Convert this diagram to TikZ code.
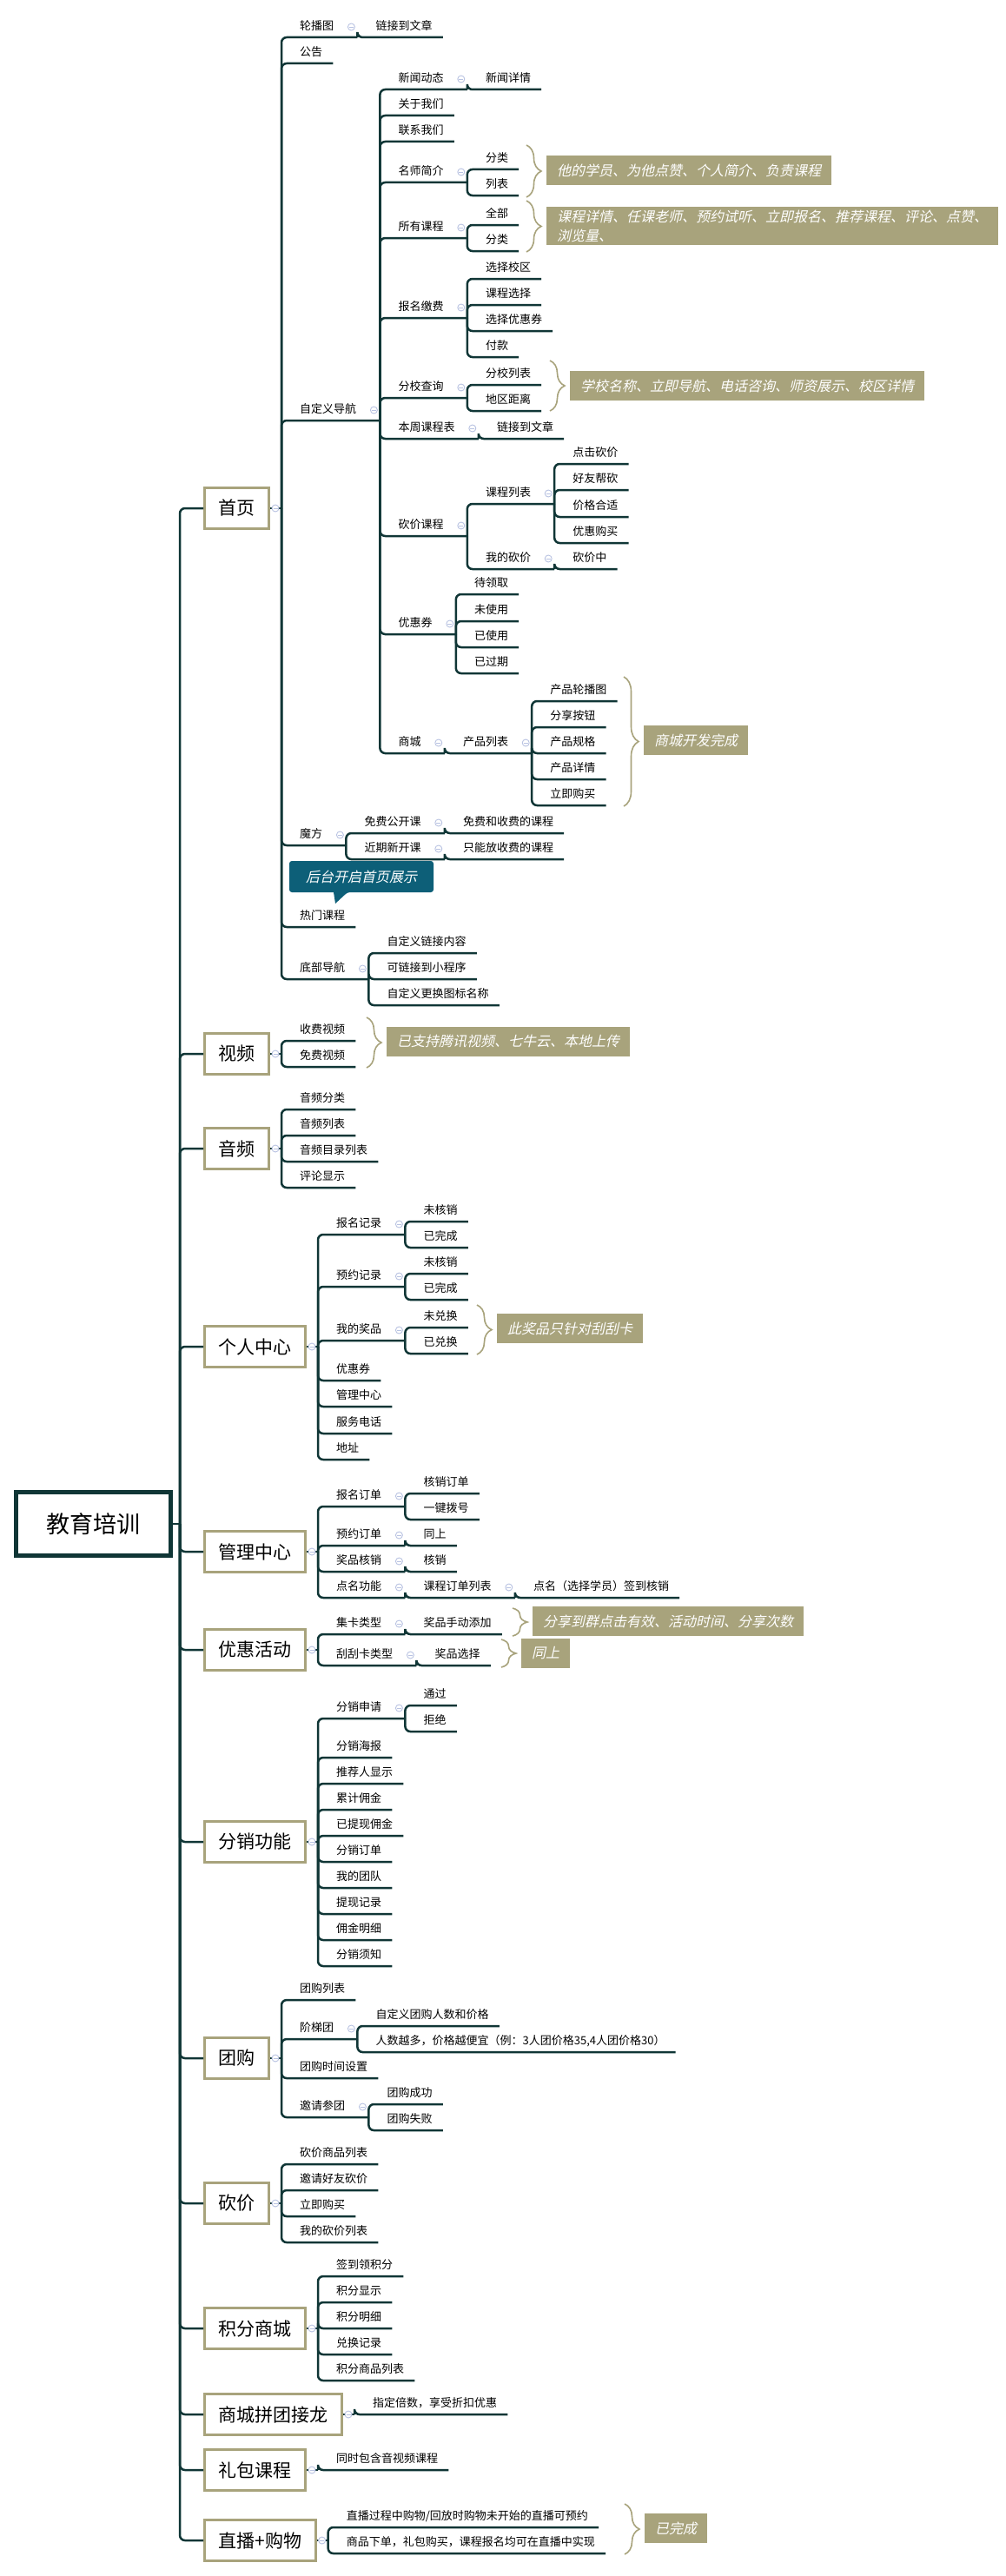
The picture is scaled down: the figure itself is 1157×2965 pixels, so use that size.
\documentclass[tikz,border=0pt]{standalone}
\usepackage{fontspec}
\setmainfont{Noto Sans CJK SC}
\newfontfamily\cjki{Noto Sans CJK SC}[FakeSlant=0.22]
\usetikzlibrary{calc,decorations.pathreplacing}
\definecolor{dk}{HTML}{103636}
\definecolor{kh}{HTML}{A8A37C}
\definecolor{tl}{HTML}{0D5F78}
\definecolor{tgc}{HTML}{B9C3E2}
\tikzset{
 br/.style={draw=dk,line width=2.5pt,rounded corners=6pt},
 lf/.style={anchor=south west,inner xsep=0pt,inner ysep=6pt,text height=11pt,text depth=2pt,font=\fontsize{13}{15}\selectfont,text=black},
 mn/.style={anchor=west,draw=kh,line width=3pt,fill=white,inner xsep=16pt,minimum height=47pt,font=\fontsize{21}{24}\selectfont},
 cal/.style={anchor=west,fill=kh,text=white,inner xsep=12pt,minimum height=34pt,font=\fontsize{16}{22}\selectfont\cjki,align=left},
 brc/.style={draw=kh,line width=1.6pt,decorate,decoration={brace,amplitude=17pt}},
 tog/.style={draw=tgc,line width=0.9pt,fill=white}
}
\newcommand\tgl[1]{\draw[tog] ($(#1)+(-7,-12)$) circle (4pt); \draw[tgc,line width=0.9pt] ($(#1)+(-9.5,-12)$) -- ++(5,0);}
\newcommand\kid[4]{\node[lf] (#2) at (#1 |- 0,#3) {\hspace*{21pt}#4\hspace*{12pt}}; \draw[br] (#1) |- (#2.south east);}
\newcommand\kidp[4]{\node[lf] (#2) at (#1 |- 0,#3) {\hspace*{21pt}#4\hspace*{27pt}}; \draw[br] (#1) |- (#2.south east); \tgl{#2.south east}}
\newcommand\mnode[3]{\node[mn] (#1) at (234,#2) {#3}; \draw[br] (T) |- (#1.west); \coordinate (#1j) at ($(#1.east)+(13,0)$); \draw[br] (#1.east) -- (#1j); \draw[tog] ($(#1.east)+(6,0)$) circle (4pt); \draw[tgc,line width=0.9pt] ($(#1.east)+(3.5,0)$) -- ++(5,0);}
\newcommand\callout[6]{\node[cal] (#1) at (#2,#3) {#6}; \draw[brc] ({#2-23},#4) -- ({#2-23},#5);}
\begin{document}
\begin{tikzpicture}[x=1pt,y=-1pt]
\useasboundingbox[fill=white] (0,0) rectangle (1157,2965);
\node[draw=dk,line width=5pt,minimum width=178pt,minimum height=73pt,font=\fontsize{27}{30}\selectfont] (root) at (107.5,1754) {教育培训};
\coordinate (T) at (207,1754);
\draw[br] (root.east) -- (T);
% 首页
\mnode{h}{585}{首页}
\kidp{hj}{a1}{43}{轮播图}
\kid{a1.south east}{a1a}{43}{链接到文章}
\kid{hj}{a2}{73}{公告}
\kidp{hj}{a3}{484}{自定义导航}
\kidp{a3.south east}{b1}{103}{新闻动态}
\kid{b1.south east}{b1a}{103}{新闻详情}
\kid{a3.south east}{b2}{133}{关于我们}
\kid{a3.south east}{b3}{163}{联系我们}
\kidp{a3.south east}{b4}{210}{名师简介}
\kid{b4.south east}{b4a}{195}{分类}
\kid{b4.south east}{b4b}{225}{列表}
\kidp{a3.south east}{b5}{274}{所有课程}
\kid{b5.south east}{b5a}{259}{全部}
\kid{b5.south east}{b5b}{289}{分类}
\kidp{a3.south east}{b6}{366}{报名缴费}
\kid{b6.south east}{b6a}{321}{选择校区}
\kid{b6.south east}{b6b}{351}{课程选择}
\kid{b6.south east}{b6c}{381}{选择优惠券}
\kid{b6.south east}{b6d}{411}{付款}
\kidp{a3.south east}{b7}{458}{分校查询}
\kid{b7.south east}{b7a}{443}{分校列表}
\kid{b7.south east}{b7b}{473}{地区距离}
\kidp{a3.south east}{b8}{505}{本周课程表}
\kid{b8.south east}{b8a}{505}{链接到文章}
\kidp{a3.south east}{b9}{617}{砍价课程}
\kidp{b9.south east}{c1}{580}{课程列表}
\kid{c1.south east}{c1a}{534}{点击砍价}
\kid{c1.south east}{c1b}{564}{好友帮砍}
\kid{c1.south east}{c1c}{595}{价格合适}
\kid{c1.south east}{c1d}{625}{优惠购买}
\kidp{b9.south east}{c2}{655}{我的砍价}
\kid{c2.south east}{c2a}{655}{砍价中}
\kidp{a3.south east}{b10}{730}{优惠券}
\kid{b10.south east}{b10a}{684}{待领取}
\kid{b10.south east}{b10b}{715}{未使用}
\kid{b10.south east}{b10c}{745}{已使用}
\kid{b10.south east}{b10d}{775}{已过期}
\kidp{a3.south east}{b11}{867}{商城}
\kidp{b11.south east}{c3}{867}{产品列表}
\kid{c3.south east}{c3a}{807}{产品轮播图}
\kid{c3.south east}{c3b}{837}{分享按钮}
\kid{c3.south east}{c3c}{867}{产品规格}
\kid{c3.south east}{c3d}{897}{产品详情}
\kid{c3.south east}{c3e}{927}{立即购买}
\kidp{hj}{a4}{973}{魔方}
\kidp{a4.south east}{d1}{959}{免费公开课}
\kid{d1.south east}{d1a}{959}{免费和收费的课程}
\kidp{a4.south east}{d2}{989}{近期新开课}
\kid{d2.south east}{d2a}{989}{只能放收费的课程}
\kid{hj}{a5}{1067}{热门课程}
\kidp{hj}{a6}{1127}{底部导航}
\kid{a6.south east}{a6a}{1097}{自定义链接内容}
\kid{a6.south east}{a6b}{1127}{可链接到小程序}
\kid{a6.south east}{a6c}{1157}{自定义更换图标名称}
\callout{k1}{629}{196}{167}{227}{他的学员、为他点赞、个人简介、负责课程}
\callout{k2}{629}{260}{231}{290}{课程详情、任课老师、预约试听、立即报名、推荐课程、评论、点赞、\\浏览量、}
\callout{k3}{656}{444}{415}{473}{学校名称、立即导航、电话咨询、师资展示、校区详情}
\callout{k4}{741}{852}{779}{928}{商城开发完成}
\fill[tl,rounded corners=3pt] (333,991) -- (499,991) -- (499,1027) -- (400,1027) [sharp corners] -- (386,1040) -- (384,1027) [rounded corners=3pt] -- (333,1027) -- cycle;
\node[text=white,font=\fontsize{16}{20}\selectfont\cjki] (ht) at (416,1009) {后台开启首页展示};
% 视频
\mnode{v}{1213}{视频}
\kid{vj}{v1}{1198}{收费视频}
\kid{vj}{v2}{1228}{免费视频}
\callout{k5}{445}{1199}{1171}{1229}{已支持腾讯视频、七牛云、本地上传}
% 音频
\mnode{au}{1322}{音频}
\kid{auj}{au1}{1277}{音频分类}
\kid{auj}{au2}{1307}{音频列表}
\kid{auj}{au3}{1337}{音频目录列表}
\kid{auj}{au4}{1367}{评论显示}
% 个人中心
\mnode{p}{1550}{个人中心}
\kidp{pj}{p1}{1421}{报名记录}
\kid{p1.south east}{p1a}{1406}{未核销}
\kid{p1.south east}{p1b}{1436}{已完成}
\kidp{pj}{p2}{1481}{预约记录}
\kid{p2.south east}{p2a}{1466}{未核销}
\kid{p2.south east}{p2b}{1496}{已完成}
\kidp{pj}{p3}{1543}{我的奖品}
\kid{p3.south east}{p3a}{1528}{未兑换}
\kid{p3.south east}{p3b}{1558}{已兑换}
\kid{pj}{p4}{1589}{优惠券}
\kid{pj}{p5}{1619}{管理中心}
\kid{pj}{p6}{1650}{服务电话}
\kid{pj}{p7}{1680}{地址}
\callout{k6}{572}{1529}{1502}{1559}{此奖品只针对刮刮卡}
% 管理中心
\mnode{m}{1786}{管理中心}
\kidp{mj}{m1}{1734}{报名订单}
\kid{m1.south east}{m1a}{1719}{核销订单}
\kid{m1.south east}{m1b}{1749}{一键拨号}
\kidp{mj}{m2}{1779}{预约订单}
\kid{m2.south east}{m2a}{1779}{同上}
\kidp{mj}{m3}{1809}{奖品核销}
\kid{m3.south east}{m3a}{1809}{核销}
\kidp{mj}{m4}{1839}{点名功能}
\kidp{m4.south east}{m4a}{1839}{课程订单列表}
\kid{m4a.south east}{m4b}{1839}{点名（选择学员）签到核销}
% 优惠活动
\mnode{y}{1899}{优惠活动}
\kidp{yj}{y1}{1881}{集卡类型}
\kid{y1.south east}{y1a}{1881}{奖品手动添加}
\kidp{yj}{y2}{1917}{刮刮卡类型}
\kid{y2.south east}{y2a}{1917}{奖品选择}
\callout{k7}{613}{1866}{1851}{1883}{分享到群点击有效、活动时间、分享次数}
\callout{k8}{600}{1903}{1887}{1919}{同上}
% 分销功能
\mnode{f}{2120}{分销功能}
\kidp{fj}{f1}{1978}{分销申请}
\kid{f1.south east}{f1a}{1963}{通过}
\kid{f1.south east}{f1b}{1993}{拒绝}
\kid{fj}{f2}{2023}{分销海报}
\kid{fj}{f3}{2053}{推荐人显示}
\kid{fj}{f4}{2083}{累计佣金}
\kid{fj}{f5}{2113}{已提现佣金}
\kid{fj}{f6}{2143}{分销订单}
\kid{fj}{f7}{2173}{我的团队}
\kid{fj}{f8}{2203}{提现记录}
\kid{fj}{f9}{2233}{佣金明细}
\kid{fj}{f10}{2263}{分销须知}
% 团购
\mnode{g}{2369}{团购}
\kid{gj}{g1}{2302}{团购列表}
\kidp{gj}{g2}{2347}{阶梯团}
\kid{g2.south east}{g2a}{2332}{自定义团购人数和价格}
\kid{g2.south east}{g2b}{2362}{人数越多，价格越便宜（例：3人团价格35,4人团价格30）}
\kid{gj}{g3}{2392}{团购时间设置}
\kidp{gj}{g4}{2437}{邀请参团}
\kid{g4.south east}{g4a}{2422}{团购成功}
\kid{g4.south east}{g4b}{2452}{团购失败}
% 砍价
\mnode{kj}{2536}{砍价}
\kid{kjj}{kj1}{2491}{砍价商品列表}
\kid{kjj}{kj2}{2521}{邀请好友砍价}
\kid{kjj}{kj3}{2551}{立即购买}
\kid{kjj}{kj4}{2581}{我的砍价列表}
% 积分商城
\mnode{jf}{2680}{积分商城}
\kid{jfj}{jf1}{2620}{签到领积分}
\kid{jfj}{jf2}{2650}{积分显示}
\kid{jfj}{jf3}{2680}{积分明细}
\kid{jfj}{jf4}{2710}{兑换记录}
\kid{jfj}{jf5}{2740}{积分商品列表}
% 商城拼团接龙
\mnode{sc}{2779}{商城拼团接龙}
\kid{scj}{sc1}{2779}{指定倍数，享受折扣优惠}
% 礼包课程
\mnode{lb}{2843}{礼包课程}
\kid{lbj}{lb1}{2843}{同时包含音视频课程}
% 直播+购物
\mnode{zb}{2924}{直播+购物}
\kid{zbj}{zb1}{2909}{直播过程中购物/回放时购物未开始的直播可预约}
\kid{zbj}{zb2}{2939}{商品下单，礼包购买，课程报名均可在直播中实现}
\callout{k9}{742}{2910}{2882}{2940}{已完成}
\end{tikzpicture}
\end{document}
